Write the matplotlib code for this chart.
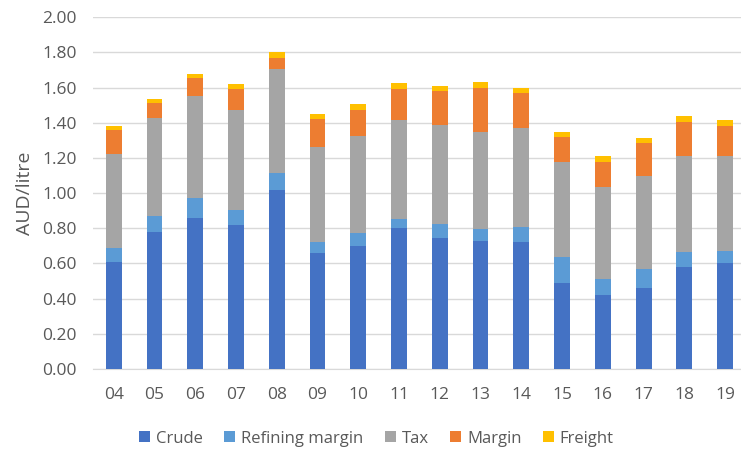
import matplotlib
matplotlib.use("Agg")
import matplotlib.pyplot as plt
import numpy as np

years = ["04", "05", "06", "07", "08", "09", "10", "11", "12", "13", "14", "15", "16", "17", "18", "19"]
crude = [0.61, 0.78, 0.86, 0.82, 1.02, 0.66, 0.70, 0.80, 0.745, 0.73, 0.72, 0.49, 0.42, 0.46, 0.58, 0.60]
refining = [0.08, 0.09, 0.115, 0.085, 0.095, 0.06, 0.075, 0.055, 0.08, 0.065, 0.09, 0.145, 0.09, 0.11, 0.085, 0.07]
tax = [0.53, 0.56, 0.575, 0.57, 0.59, 0.545, 0.55, 0.56, 0.56, 0.555, 0.56, 0.54, 0.525, 0.53, 0.545, 0.54]
margin = [0.14, 0.08, 0.105, 0.115, 0.065, 0.155, 0.15, 0.18, 0.195, 0.25, 0.20, 0.145, 0.14, 0.185, 0.195, 0.17]
freight = [0.02, 0.025, 0.025, 0.03, 0.03, 0.03, 0.03, 0.03, 0.03, 0.03, 0.03, 0.03, 0.035, 0.03, 0.035, 0.035]

series = [
    ("Crude", crude, "#4472C4"),
    ("Refining margin", refining, "#5B9BD5"),
    ("Tax", tax, "#A5A5A5"),
    ("Margin", margin, "#ED7D31"),
    ("Freight", freight, "#FFC000"),
]

plt.rcParams["font.family"] = ["Open Sans", "DejaVu Sans"]
text_color = "#595959"

fig = plt.figure(figsize=(7.41, 4.5), dpi=100)
ax = fig.add_axes([0.126, 0.18, 0.88, 0.7816])

x = np.arange(len(years))
bottom = np.zeros(len(years))
for name, vals, color in series:
    vals = np.array(vals)
    ax.bar(x, vals, width=0.39, bottom=bottom, color=color, label=name, zorder=3)
    bottom += vals

ax.set_xlim(-0.5, len(years) - 0.5)
ax.set_ylim(0, 2.0)
ax.set_yticks(np.arange(0, 2.01, 0.2))
ax.set_yticklabels([f"{v:.2f}" for v in np.arange(0, 2.01, 0.2)])
ax.set_xticks(x)
ax.set_xticklabels(years)
ax.yaxis.grid(True, color="#D9D9D9", linewidth=1, zorder=0)
ax.set_axisbelow(True)
for side in ["top", "right", "left"]:
    ax.spines[side].set_visible(False)
ax.spines["bottom"].set_color("#D9D9D9")
ax.tick_params(axis="both", length=0, labelsize=12.5, colors=text_color)
ax.tick_params(axis="x", pad=13)
ax.tick_params(axis="y", pad=12)
ax.set_ylabel("AUD/litre", fontsize=14, color=text_color, labelpad=6)

fig.legend(loc="center", bbox_to_anchor=(0.508, 0.025), ncol=5, frameon=False,
           fontsize=12, labelcolor=text_color, handlelength=0.65, handleheight=0.65,
           handletextpad=0.35, columnspacing=1.3)

fig.savefig("out.png", dpi=100)
